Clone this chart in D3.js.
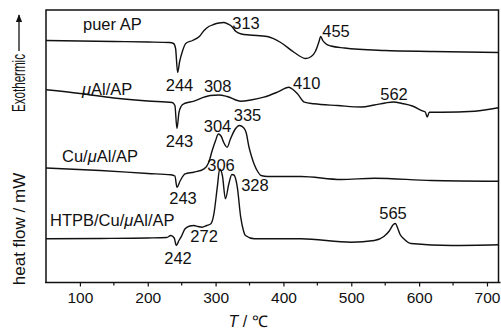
<!DOCTYPE html>
<html>
<head>
<meta charset="utf-8">
<script src="https://cdn.jsdelivr.net/npm/d3@7"></script>
<style>
  body { margin: 0; background: #fff; }
  svg { display: block; font-family: "Liberation Sans", Arial, sans-serif; }
  .curve { fill: none; stroke: #111; stroke-width: 1.4px; }
</style>
</head>
<body>
<svg width="501" height="329"></svg>
<script>
// temperature axis (°C)
let majorTicks = [100, 200, 300, 400, 500, 600, 700];
let minorTicks = [150, 250, 350, 450, 550, 650];

// DSC traces: [T, heat flow (arb. units, stacked)]
let puerAP = [[50,242],[100,241.5],[150,241],[200,240.5],[232,240],[238,239],[241,234],[244,210],[247,221],[251,231],[256,239],[266,242],[276,246],[283,252],[290,256],[297,258],[305,259.5],[312,260],[318,258.5],[324,256],[330,251],[338,248.5],[350,247.5],[376,246],[396,240],[416,230],[433,224],[441,226],[447,231],[452,240],[455,246],[458,242],[462,239],[470,236.5],[490,234.5],[549,232],[620,231],[717,230]];
let muAlAP = [[50,192.7],[100,189],[150,184.5],[200,181.5],[236,180],[240,177],[243,154],[246,170],[249,176],[254,179],[268,181.3],[283,185.3],[292,187],[305,187.5],[317,186],[337,181.3],[352,182.5],[371,185.3],[391,190.3],[408,195.3],[414,193],[421,188.5],[431,180.3],[445,178.7],[480,177],[515,175.5],[534,177.5],[550,179.5],[562,180.5],[575,179],[590,176.5],[606,171.3],[609,170.5],[612,165.5],[615,170.3],[633,170.3],[682,171.3],[717,174.7]];
let cuMuAlAP = [[50,114.5],[130,112],[200,109],[234,107.7],[240,106.5],[243,95.3],[248,102],[255,108.7],[268,110.3],[283,113.7],[290,120.3],[295,132],[300,142],[304,148.5],[308,146.5],[312,140],[317,135.3],[322,143.7],[329,153.5],[335,157],[341,155],[345,150],[349,136],[353,126],[357,118],[362,111],[367,107],[377,106],[426,106],[485,103],[534,104.3],[618,102],[717,101.3]];
let htpbCuMuAlAP = [[50,43.7],[130,44],[200,44.5],[228,45],[234,47],[239,44.5],[242,37],[246,42],[249,45.3],[255,53.7],[262,56.5],[268,57],[274,56],[280,55.3],[287,57],[293,58.7],[297.5,68.7],[302.5,95.3],[306,113.5],[310,107],[314.5,83.7],[319.5,98.7],[324,108],[327,107.5],[332,95.3],[337,65.3],[341,52],[344,47],[357,43.7],[426,43.7],[500,40.3],[534,42],[548,46],[556,51.5],[562,58],[565,59],[568,55],[572,48],[577,44],[588,39],[648,37],[717,37.7]];

// sample names, anchored at [T, value]
let sampleNames = [
  {name: ["puer AP"], at: [104.5, 253]},
  {name: ["", "\u03bc", "Al/AP"], at: [103, 188]},
  {name: ["Cu/", "\u03bc", "Al/AP"], at: [73.6, 121]},
  {name: ["HTPB/Cu/", "\u03bc", "Al/AP"], at: [55.9, 57]}
];

// peak temperatures, label anchored at [T, value]
let peakLabels = [
  {text: "313", at: [344.8, 254]},
  {text: "455", at: [477.5, 246]},
  {text: "244", at: [246.8, 192]},
  {text: "308", at: [303.1, 191]},
  {text: "410", at: [434.3, 193.7]},
  {text: "562", at: [563, 182.7]},
  {text: "243", at: [246.8, 135.3]},
  {text: "304", at: [302.8, 151]},
  {text: "335", at: [347, 162]},
  {text: "243", at: [252, 79]},
  {text: "306", at: [308, 112]},
  {text: "328", at: [358, 92]},
  {text: "272", at: [283, 41]},
  {text: "242", at: [244.6, 19]},
  {text: "565", at: [561.5, 64]}
];

let svg = d3.select("svg");
let padL = 46, padR = 498.5, padT = 10, padB = 282.5;

let x = d3.scaleLinear().domain([50, 717]).range([padL, padR]);
let y = d3.scaleLinear().domain([0, 272.5]).range([padB, padT]);

// frame
svg.append("path")
    .attr("d", "M" + padL + "," + padB + "V" + padT + "H" + padR + "V" + padB)
    .attr("fill", "none")
    .attr("stroke", "#111")
    .attr("stroke-width", 1.5);

// bottom axis
let xAxis = svg.append("g")
    .attr("transform", "translate(0," + padB + ")")
    .call(d3.axisBottom(x).tickValues(majorTicks).tickSize(4).tickSizeOuter(0).tickPadding(5));
xAxis.select(".domain").attr("stroke", "#111").attr("stroke-width", 1.5)
    .attr("d", "M" + (padL - 1) + ",0H" + (padR + 2));
xAxis.selectAll(".tick line").attr("stroke", "#111").attr("stroke-width", 1.2);
xAxis.selectAll(".tick text")
    .attr("fill", "#111")
    .style("font-size", "15.5px")
    .style("font-family", "\"Liberation Sans\", Arial, sans-serif");

svg.append("g")
    .attr("transform", "translate(0," + padB + ")")
    .selectAll("line")
    .data(minorTicks)
    .enter().append("line")
    .attr("x1", function (d) { return x(d); })
    .attr("x2", function (d) { return x(d); })
    .attr("y1", 0)
    .attr("y2", 3)
    .attr("stroke", "#111")
    .attr("stroke-width", 1.2);

// curves
let line = d3.line()
    .x(function (d) { return x(d[0]); })
    .y(function (d) { return y(d[1]); })
    .curve(d3.curveMonotoneX);

[puerAP, muAlAP, cuMuAlAP, htpbCuMuAlAP].forEach(function (s) {
    svg.append("path").attr("class", "curve").attr("d", line(s));
});

// sample names
sampleNames.forEach(function (s) {
    let t = svg.append("text")
        .attr("x", x(s.at[0]))
        .attr("y", y(s.at[1]))
        .attr("fill", "#111")
        .style("font-size", "16.5px");
    s.name.forEach(function (part) {
        let ts = t.append("tspan").text(part);
        if (part === "\u03bc") ts.style("font-style", "italic");
    });
});

// peak labels
svg.selectAll(".peak")
    .data(peakLabels)
    .enter().append("text")
    .attr("class", "peak")
    .attr("x", function (d) { return x(d.at[0]); })
    .attr("y", function (d) { return y(d.at[1]); })
    .attr("text-anchor", "middle")
    .attr("fill", "#111")
    .style("font-size", "16.5px")
    .text(function (d) { return d.text; });

// x title
let xt = svg.append("text")
    .attr("x", 248)
    .attr("y", 327)
    .attr("text-anchor", "middle")
    .attr("fill", "#111")
    .style("font-size", "16px");
xt.append("tspan").style("font-style", "italic").text("T");
xt.append("tspan").text(" / \u2103");

// y titles
svg.append("text")
    .attr("transform", "translate(25,229) rotate(-90)")
    .attr("text-anchor", "middle")
    .attr("fill", "#111")
    .style("font-size", "17px")
    .text("heat flow / mW");

svg.append("text")
    .attr("transform", "translate(25,112) rotate(-90)")
    .attr("fill", "#111")
    .style("font-size", "17.5px")
    .attr("textLength", 58)
    .attr("lengthAdjust", "spacingAndGlyphs")
    .text("Exothermic");

svg.append("defs").append("marker")
    .attr("id", "arrow")
    .attr("viewBox", "0 0 10 10")
    .attr("refX", 9).attr("refY", 5)
    .attr("markerWidth", 8).attr("markerHeight", 8)
    .attr("markerUnits", "userSpaceOnUse")
    .attr("orient", "auto")
    .append("path").attr("d", "M0,1L10,5L0,9Z").attr("fill", "#111");

svg.append("line")
    .attr("x1", 19).attr("x2", 19)
    .attr("y1", 51)
    .attr("y2", 15)
    .attr("stroke", "#111")
    .attr("stroke-width", 1.3)
    .attr("marker-end", "url(#arrow)");
</script>
</body>
</html>
